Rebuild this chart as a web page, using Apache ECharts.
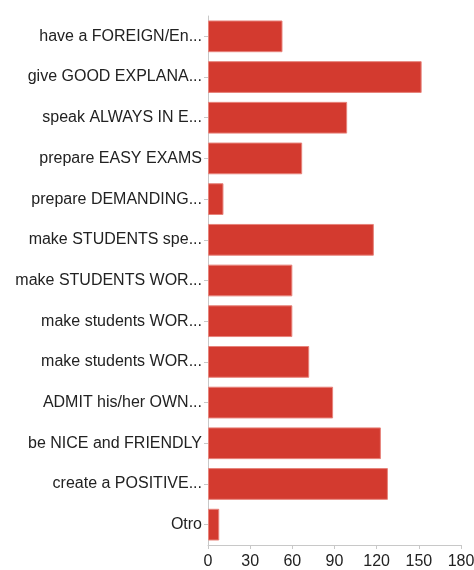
<!DOCTYPE html>
<html>
<head>
<meta charset="utf-8">
<script src="https://cdn.jsdelivr.net/npm/echarts@6/dist/echarts.min.js"></script>
<style>
  html, body { margin: 0; padding: 0; background: #fff; }
  #chart { width: 474px; height: 570px; }
</style>
</head>
<body>
<div id="chart"></div>
<script>
// Answer options (labels as shortened in the survey summary)
const categories = [
  'have a FOREIGN/En...',
  'give GOOD EXPLANA...',
  'speak ALWAYS IN E...',
  'prepare EASY EXAMS',
  'prepare DEMANDING...',
  'make STUDENTS spe...',
  'make STUDENTS WOR...',
  'make students WOR...',
  'make students WOR...',
  'ADMIT his/her OWN...',
  'be NICE and FRIENDLY',
  'create a POSITIVE...',
  'Otro'
];
// Number of responses per option
const counts = [53, 152, 99, 67, 11, 118, 60, 60, 72, 89, 123, 128, 8];
// Value axis ticks
const xTicks = [0, 30, 60, 90, 120, 150, 180];

const chart = echarts.init(document.getElementById('chart'), null, { renderer: 'canvas' });
const font = '"Liberation Sans", Arial, Helvetica, sans-serif';

chart.setOption({
  animation: false,
  grid: {
    left: 208, right: 13, top: 16, bottom: 25,
    containLabel: false,
    outerBoundsMode: 'none'
  },
  xAxis: {
    type: 'value',
    min: xTicks[0],
    max: xTicks[xTicks.length - 1],
    interval: 30,
    axisLine: { show: true, lineStyle: { color: '#c8c8c8', width: 1 } },
    axisTick: { show: true, length: 4, lineStyle: { color: '#c8c8c8' } },
    splitLine: { show: false },
    axisLabel: { color: '#222', fontSize: 16, fontFamily: font, margin: 9 }
  },
  yAxis: {
    type: 'category',
    data: categories,
    inverse: true,
    axisLine: { show: true, lineStyle: { color: '#c8c8c8', width: 1 } },
    axisTick: { show: true, length: 4, alignWithLabel: true, lineStyle: { color: '#c8c8c8' } },
    axisLabel: { color: '#222', fontSize: 16, fontFamily: font, margin: 6 }
  },
  series: [{
    type: 'bar',
    data: counts,
    barCategoryGap: '22%',
    itemStyle: { color: '#d33a2f', borderColor: '#e7837b', borderWidth: 1 }
  }]
});
</script>
</body>
</html>
